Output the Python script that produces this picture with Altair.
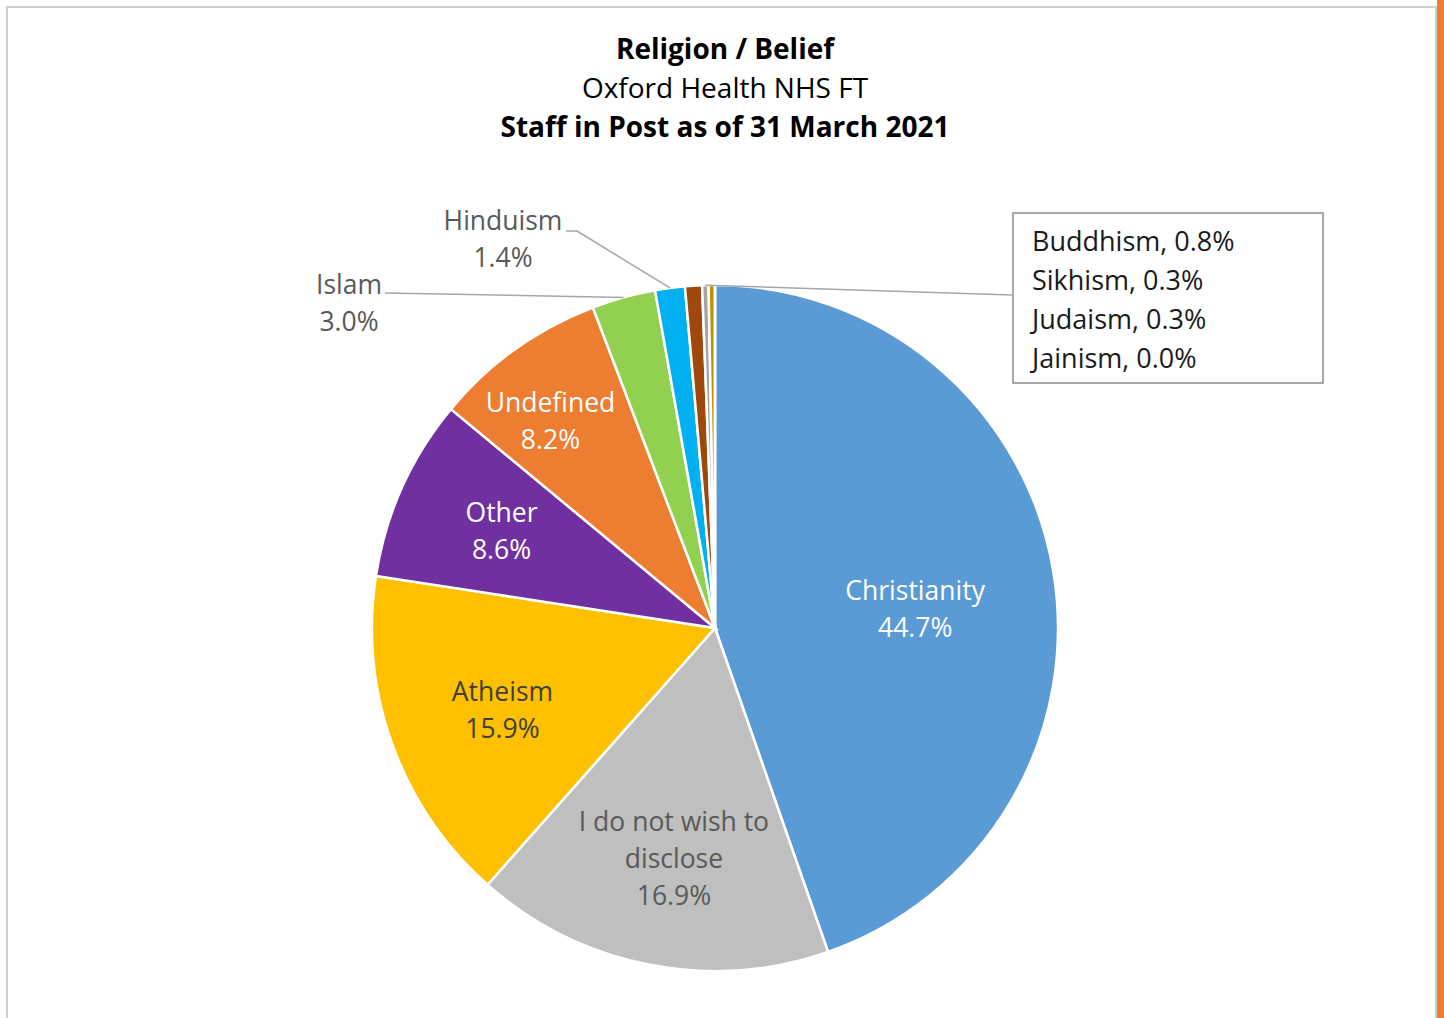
import math
import altair as alt
import pandas as pd

# ---- data ----
categories = ["Christianity", "I do not wish to disclose", "Atheism", "Other", "Undefined",
              "Islam", "Hinduism", "Buddhism", "Sikhism", "Judaism", "Jainism"]
display_names = ["Christianity", "I do not wish to\ndisclose", "Atheism", "Other", "Undefined",
                 "Islam", "Hinduism", "Buddhism", "Sikhism", "Judaism", "Jainism"]
values = [44.7, 16.9, 15.9, 8.6, 8.2, 3.0, 1.4, 0.8, 0.3, 0.3, 0.0]
colors = ["#5B9BD5", "#BFBFBF", "#FFC000", "#7030A0", "#ED7D31",
          "#92D050", "#00B0F0", "#9E480E", "#A5A5A5", "#BF9000", "#264478"]
title_lines = ["Religion / Belief", "Oxford Health NHS FT", "Staff in Post as of 31 March 2021"]
box_categories = ["Buddhism", "Sikhism", "Judaism", "Jainism"]

FONT = "Open Sans"
FS = 26.5
CX, CY, R = 715, 628, 343

df = pd.DataFrame({
    "category": categories,
    "value": values,
    "idx": list(range(len(categories))),
    "label": [f"{d}\n{v:.1f}%" for d, v in zip(display_names, values)],
})

# slice mid angles (for leader-line endpoints on the rim)
total = sum(values)
cum = 0.0
edge = {}
for c, v in zip(categories, values):
    mid = (cum + v / 2) / total * 2 * math.pi
    edge[c] = (CX + R * math.sin(mid), CY - R * math.cos(mid))
    cum += v

blank = pd.DataFrame({"a": [0]})

frame = alt.Chart(blank).mark_rect(fill="white", stroke="#D0D0D0", strokeWidth=2).encode(
    x=alt.value(7), x2=alt.value(1436), y=alt.value(7), y2=alt.value(1040))
orange = alt.Chart(blank).mark_rect(fill="#ED7D31").encode(
    x=alt.value(1437), x2=alt.value(1444), y=alt.value(0), y2=alt.value(1018))

titles = []
for t, yy, w in zip(title_lines, [51, 90, 129], ["bold", "normal", "bold"]):
    titles.append(alt.Chart(pd.DataFrame({"t": [t]})).mark_text(
        font=FONT, fontSize=28, fontWeight=w, color="#000000", align="center", baseline="middle"
    ).encode(text="t:N", x=alt.value(725), y=alt.value(yy)))

pie = alt.Chart(df).mark_arc(radius=R, stroke="white", strokeWidth=2.5).encode(
    theta=alt.Theta("value:Q", stack=True),
    color=alt.Color("category:N", scale=alt.Scale(domain=categories, range=colors), legend=None),
    order=alt.Order("idx:Q"),
    x=alt.value(CX), y=alt.value(CY),
)


def inner(cats, radius, color, dx=0, dy=0):
    cond = " || ".join(f"datum.category == '{c}'" for c in cats)
    return alt.Chart(df).transform_calculate(
        t=f"({cond}) ? datum.label : ''"
    ).mark_text(radius=radius, font=FONT, fontSize=FS, color=color, lineBreak="\n",
                lineHeight=37, align="center", baseline="middle", dx=dx, dy=dy).encode(
        theta=alt.Theta("value:Q", stack=True),
        order=alt.Order("idx:Q"),
        detail="category:N",
        text="t:N",
        x=alt.value(CX), y=alt.value(CY),
    )


lab_christ = inner(["Christianity"], 203, "#FFFFFF", dy=-2)
lab_disc = inner(["I do not wish to disclose"], 233, "#595959", dx=4, dy=-34)
lab_ath = inner(["Atheism"], 226, "#404040", dy=-12)
lab_other = inner(["Other"], 234, "#FFFFFF", dy=-18)
lab_undef = inner(["Undefined"], 262, "#FFFFFF", dx=-12, dy=-11)


def outer(cat, x, y):
    return alt.Chart(df).transform_filter(f"datum.category == '{cat}'").mark_text(
        font=FONT, fontSize=FS, color="#595959", lineBreak="\n", lineHeight=37,
        align="center", baseline="middle").encode(text="label:N", x=alt.value(x), y=alt.value(y))


lab_islam = outer("Islam", 349, 286)
lab_hindu = outer("Hinduism", 503, 222)

leaders = pd.DataFrame({
    "x": [385, 566, 577, 1012],
    "y": [293, 231, 231, 295],
    "x2": [edge["Islam"][0], 577, edge["Hinduism"][0], edge["Sikhism"][0]],
    "y2": [edge["Islam"][1], 231, edge["Hinduism"][1], edge["Sikhism"][1]],
})
lines = alt.Chart(leaders).mark_rule(color="#A6A6A6", strokeWidth=1.5).encode(
    x=alt.X("x:Q", scale=None), y=alt.Y("y:Q", scale=None),
    x2="x2:Q", y2="y2:Q")

box = alt.Chart(blank).mark_rect(fill="white", stroke="#8C8C8C", strokeWidth=1.5).encode(
    x=alt.value(1013), x2=alt.value(1323), y=alt.value(213), y2=alt.value(383))
box_text_str = "\n".join(
    f"{c}, {v:.1f}%" for c, v in zip(categories, values) if c in box_categories)
box_text = alt.Chart(pd.DataFrame({"t": [box_text_str]})).mark_text(
    font=FONT, fontSize=27, color="#1A1A1A", lineBreak="\n", lineHeight=39,
    align="left", baseline="middle").encode(text="t:N", x=alt.value(1032), y=alt.value(243))

chart = alt.layer(
    frame, orange, *titles, pie, lab_christ, lab_disc, lab_ath, lab_other, lab_undef,
    lines, lab_islam, lab_hindu, box, box_text
).properties(
    width=1444, height=1018, padding=0,
    autosize=alt.AutoSizeParams(type="none"),
).configure_view(strokeWidth=0)

chart.save("out.html", embed_options={"renderer": "svg", "actions": False})
